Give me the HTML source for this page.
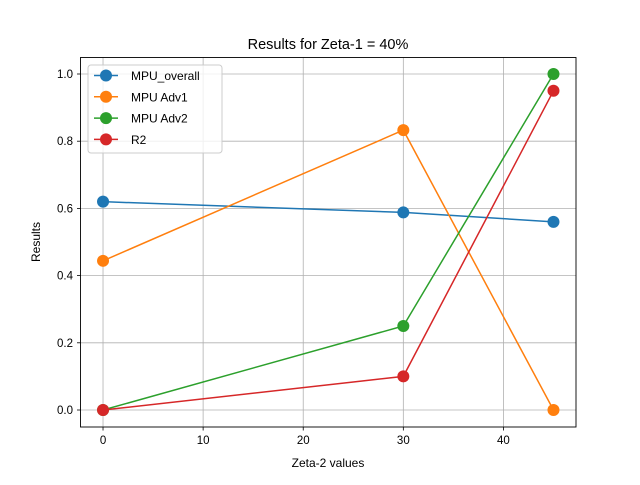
<!DOCTYPE html>
<html><head><meta charset="utf-8"><style>
body{margin:0;background:#fff}
svg{font-family:"Liberation Sans","DejaVu Sans",sans-serif}
</style></head><body>
<svg id="chart" width="640" height="480" xmlns="http://www.w3.org/2000/svg">
<rect width="640" height="480" fill="#fff"/>
<text x="328" y="49" text-anchor="middle" font-size="14.5">Results for Zeta-1 = 40%</text>
<g id="grid"></g>
<g id="series"></g>
<rect x="80.5" y="57.5" width="495.5" height="369.5" fill="none" stroke="#000" stroke-width="0.9"/>
<g id="ticks" font-size="11.5"></g>
<text x="328" y="467" text-anchor="middle" font-size="12">Zeta-2 values</text>
<text transform="translate(40,242) rotate(-90)" text-anchor="middle" font-size="12">Results</text>
<g id="legend"></g>
</svg>
<script>
const categories=[0,30,45];
const seriesNames=["MPU_overall","MPU Adv1","MPU Adv2","R2"];
const mpuOverall=[0.62,0.588,0.56];
const mpuAdv1=[0.444,0.833,0];
const mpuAdv2=[0,0.25,1];
const r2=[0,0.1,0.95];
const xTicks=[0,10,20,30,40];
const yTicks=[0,0.2,0.4,0.6,0.8,1.0];
const colors=["#1f77b4","#ff7f0e","#2ca02c","#d62728"];
const allSeries=[mpuOverall,mpuAdv1,mpuAdv2,r2];
const NS="http://www.w3.org/2000/svg";
const X=v=>80.5+(v+2.25)/49.5*495.5;
const Y=v=>426.8-(v+0.05)/1.1*369.6;
function mk(tag,attrs,parent){const e=document.createElementNS(NS,tag);for(const k in attrs)e.setAttribute(k,attrs[k]);parent.appendChild(e);return e;}
const grid=document.getElementById('grid'),ticks=document.getElementById('ticks'),ser=document.getElementById('series'),leg=document.getElementById('legend');
xTicks.forEach(t=>{const x=X(t);
 let g=mk('line',{x1:x,x2:x,y1:57.5,y2:427,stroke:'#b0b0b0','stroke-width':0.8},grid);
 
 mk('line',{x1:x,x2:x,y1:427,y2:430.5,stroke:'#000','stroke-width':0.8},ticks);
 let tx=mk('text',{x:x,y:444,'text-anchor':'middle'},ticks);tx.textContent=t;
 });
yTicks.forEach(t=>{const y=Y(t);
 let g=mk('line',{x1:80.5,x2:576,y1:y,y2:y,stroke:'#b0b0b0','stroke-width':0.8},grid);
 
 mk('line',{x1:77,x2:80.5,y1:y,y2:y,stroke:'#000','stroke-width':0.8},ticks);
 let tx=mk('text',{x:73,y:y+4,'text-anchor':'end'},ticks);tx.textContent=t.toFixed(1);
 });
allSeries.forEach((vals,i)=>{
 const g=mk('g',{},ser);
 
 
 const p=mk('polyline',{points:vals.map((v,j)=>X(categories[j])+','+Y(v)).join(' '),fill:'none',stroke:colors[i],'stroke-width':1.5},g);
 
 vals.forEach((v,j)=>{const c=mk('circle',{cx:X(categories[j]),cy:Y(v),r:6,fill:colors[i]},g);
  });
});
const lb=mk('rect',{x:88,y:65,width:134,height:88,rx:3,fill:'#fff','fill-opacity':0.8,stroke:'#ccc'},leg);

seriesNames.forEach((n,i)=>{const y=75.5+i*21.3;
 const g=mk('g',{},leg);
 
 mk('line',{x1:94,x2:118,y1:y,y2:y,stroke:colors[i],'stroke-width':1.5},g);
 mk('circle',{cx:106,cy:y,r:6,fill:colors[i]},g);
 const t=mk('text',{x:131,y:y+4.5,'font-size':12},g);t.textContent=n;});
</script>
</body></html>
